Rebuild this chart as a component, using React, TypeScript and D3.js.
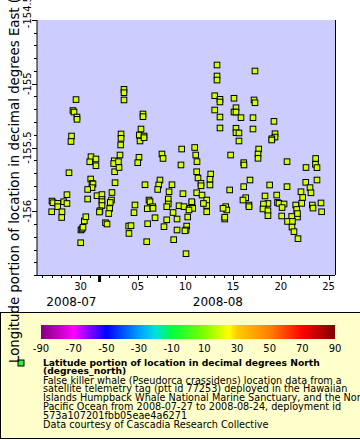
import React from 'react';
import * as d3 from 'd3';

// Time of each fix, in days counted from 2008-07-00 (30 = 2008-07-30 00:00 UTC, 32 = 2008-08-01)
const days = [
  27.01, 27.12, 27.61, 27.61, 28.24, 28.06, 28.03, 26.98, 28.58, 28.58,
  28.79, 29.53, 29.21, 29.32, 29.63, 29.63, 29.06, 29.00, 30.02, 30.05,
  30.16, 30.26, 30.40, 30.56, 31.10, 30.97, 31.62, 31.62, 31.07, 31.21,
  31.31, 31.21, 30.75, 30.75, 31.73, 32.25, 32.25, 32.25, 32.25, 32.04,
  31.99, 32.62, 32.78, 33.30, 33.25, 33.12, 33.06, 32.96, 33.62, 33.54,
  33.48, 33.58, 34.14, 33.98, 34.04, 34.21, 34.25, 34.25, 34.56, 34.56,
  34.56, 35.05, 35.29, 35.08, 35.71, 35.61, 36.13, 36.00, 36.24, 36.16,
  36.34, 36.55, 36.55, 36.66, 36.66, 36.76, 37.00, 37.18, 37.29, 37.04,
  36.94, 37.57, 37.60, 37.81, 38.33, 38.20, 38.09, 38.54, 38.65, 38.75,
  39.20, 39.20, 39.04, 39.28, 39.59, 39.04, 39.70, 39.77, 40.12, 40.12,
  40.33, 40.85, 40.61, 40.53, 40.74, 41.24, 41.13, 41.06, 40.95, 41.06,
  41.69, 41.48, 41.76, 41.37, 41.66, 41.97, 42.08, 42.21, 42.18, 42.32,
  42.18, 42.63, 42.63, 42.74, 43.23, 43.23, 43.23, 42.89, 43.65, 43.57,
  43.57, 44.31, 44.31, 44.31, 44.07, 44.62, 44.62, 44.07, 44.62, 44.62,
  45.22, 45.33, 44.94, 45.12, 45.12, 45.64, 45.74, 46.09, 46.30, 46.09,
  46.30, 46.82, 46.30, 46.30, 46.61, 46.61, 47.11, 47.14, 47.11, 47.77,
  47.32, 47.03, 47.66, 47.66, 48.29, 48.19, 48.29, 48.08, 48.08, 48.68,
  48.61, 48.61, 49.34, 49.65, 49.18, 49.13, 49.65, 49.65, 49.83, 50.28,
  50.39, 50.39, 50.07, 50.04, 50.57, 50.65, 50.81, 51.34, 51.13, 51.09,
  51.65, 51.65, 52.14, 52.75, 51.70, 52.22, 52.17, 52.38, 52.80, 52.56,
  52.66, 52.75, 53.19, 53.11, 53.29, 53.61, 53.64, 54.06, 54.16, 54.30,
  54.37, 54.65, 54.63, 54.79, 54.79, 55.21, 55.28,
];

// Longitude (degrees East)
const lons = [
  -155.920, -155.933, -155.938, -155.964, -155.925, -156.004, -156.049, -156.004, -155.870, -155.939,
  -155.698, -155.124, -155.210, -155.222, -155.261, -155.279, -155.410, -155.453, -156.247, -156.147,
  -156.139, -156.126, -156.076, -156.043, -155.572, -155.612, -155.590, -155.643, -155.747, -155.782,
  -155.786, -155.815, -155.829, -155.904, -155.878, -155.869, -155.908, -155.925, -155.955, -155.996,
  -156.006, -156.090, -156.100, -155.853, -155.912, -155.931, -155.978, -156.018, -155.776, -155.604,
  -155.626, -155.690, -155.559, -155.611, -155.657, -155.480, -155.394, -155.428, -155.044, -155.070,
  -155.127, -156.116, -156.113, -156.174, -155.951, -156.011, -155.577, -155.619, -155.449, -155.402,
  -155.355, -155.237, -155.258, -155.410, -155.423, -155.792, -155.980, -155.912, -155.925, -156.098,
  -156.239, -155.964, -155.977, -156.051, -155.755, -155.794, -155.829, -155.551, -155.586, -156.121,
  -155.904, -155.943, -155.964, -155.847, -155.792, -156.067, -156.010, -156.223, -156.061, -156.147,
  -155.957, -155.964, -155.512, -155.637, -155.862, -156.045, -156.116, -156.147, -156.153, -156.333,
  -155.933, -155.977, -155.977, -155.990, -155.925, -155.500, -155.559, -155.611, -155.690, -155.739,
  -155.855, -155.781, -155.800, -155.873, -155.912, -155.955, -156.004, -155.939, -155.708, -155.749,
  -155.794, -154.853, -154.939, -154.971, -155.094, -155.122, -155.143, -155.206, -155.261, -155.347,
  -155.964, -155.990, -155.977, -156.061, -156.047, -155.833, -155.559, -155.114, -155.188, -155.222,
  -155.222, -155.266, -155.349, -155.384, -155.386, -155.449, -155.619, -155.637, -155.807, -155.755,
  -155.894, -155.912, -155.951, -155.964, -154.900, -155.127, -155.149, -155.266, -155.355, -155.512,
  -155.551, -155.585, -155.880, -155.939, -155.943, -155.982, -155.996, -156.035, -155.794, -155.295,
  -155.392, -155.418, -155.431, -155.441, -155.873, -155.931, -155.938, -155.943, -155.971, -156.037,
  -155.611, -155.807, -156.041, -156.045, -156.080, -156.080, -156.124, -156.160, -156.215, -155.951,
  -155.986, -156.018, -155.938, -155.847, -155.892, -155.773, -155.657, -155.815, -155.855, -155.951,
  -155.975, -155.586, -155.632, -155.658, -155.755, -155.935, -156.004,
];

// Latitude (degrees North), used for the marker colour
const lats = [
  19.95, 19.95, 19.95, 20.05, 19.95, 20.05, 20.05, 20.05, 19.95, 19.95,
  19.95, 19.75, 19.75, 19.75, 19.75, 19.75, 19.85, 19.85, 20.05, 20.05,
  20.05, 20.05, 20.05, 20.05, 19.85, 19.85, 19.85, 19.85, 19.95, 19.95,
  19.95, 19.95, 19.95, 19.95, 19.95, 19.95, 19.95, 19.95, 20.05, 20.05,
  20.05, 20.05, 20.05, 19.95, 19.95, 19.95, 20.05, 20.05, 19.95, 19.85,
  19.85, 19.95, 19.85, 19.85, 19.95, 19.85, 19.85, 19.85, 19.75, 19.75,
  19.75, 20.05, 20.05, 20.05, 20.05, 20.05, 19.85, 19.85, 19.85, 19.85,
  19.85, 19.75, 19.75, 19.85, 19.85, 19.95, 20.05, 19.95, 19.95, 20.05,
  20.05, 20.05, 20.05, 20.05, 19.95, 19.95, 19.95, 19.85, 19.85, 20.05,
  19.95, 19.95, 20.05, 19.95, 19.95, 20.05, 20.05, 20.05, 20.05, 20.05,
  20.05, 20.05, 19.85, 19.85, 19.95, 20.05, 20.05, 20.05, 20.05, 20.05,
  19.95, 20.05, 20.05, 20.05, 19.95, 19.85, 19.85, 19.85, 19.95, 19.95,
  19.95, 19.95, 19.95, 19.95, 19.95, 20.05, 20.05, 19.95, 19.95, 19.95,
  19.95, 19.75, 19.75, 19.75, 19.75, 19.75, 19.75, 19.75, 19.75, 19.85,
  20.05, 20.05, 20.05, 20.05, 20.05, 19.95, 19.85, 19.75, 19.75, 19.75,
  19.75, 19.75, 19.85, 19.85, 19.85, 19.85, 19.85, 19.85, 19.95, 19.95,
  19.95, 19.95, 20.05, 20.05, 19.75, 19.75, 19.75, 19.75, 19.85, 19.85,
  19.85, 19.85, 19.95, 19.95, 19.95, 20.05, 20.05, 20.05, 19.95, 19.75,
  19.85, 19.85, 19.85, 19.85, 19.95, 19.95, 19.95, 19.95, 20.05, 20.05,
  19.85, 19.95, 20.05, 20.05, 20.05, 20.05, 20.05, 20.05, 20.05, 20.05,
  20.05, 20.05, 19.95, 19.95, 19.95, 19.95, 19.95, 19.95, 19.95, 20.05,
  20.05, 19.85, 19.85, 19.95, 19.95, 19.95, 20.05,
];

const xDomainDays = [25.44, 56.68];
const yDomain = [-156.5, -154.5];
const yTickValues = [-156, -155.5, -155, -154.5];
const yTickLabels = ['-156', '-155.5', '-155', '-154.5'];
const xMajorDays = [30, 36, 41, 46, 51, 56];
const xMajorLabels = ['30', '05', '10', '15', '20', '25'];
const monthLabels = ['2008-07', '2008-08'];
const monthLabelDays = [29.05, 44.4];
const monthBoundaryDays = [32];
const colorTickValues = [-90, -70, -50, -30, -10, 10, 30, 50, 70, 90];
const colorStopValues = [-90, -70, -50, -30, -20, -10, 10, 25, 30, 50, 70, 90];
const colorStopColors = ['#800080', '#ff00ff', '#0000ff', '#00a0ff', '#00e0e0', '#00ff40', '#80ff00', '#ffff00', '#ffcc00', '#ff8000', '#ff0000', '#800000'];
const legendBold = ['Latitude portion of location in decimal degrees North', '(degrees_north)'];
const legendLines = [
  'False killer whale (Pseudorca crassidens) location data from a',
  'satellite telemetry tag (ptt id 77253) deployed in the Hawaiian',
  'Islands Humpback Whale National Marine Sanctuary, and the North',
  'Pacific Ocean from 2008-07-27 to 2008-08-24, deployment id',
  '573a107201fbb05eae4a6271',
  'Data courtesy of Cascadia Research Collective',
];
const yTitle = 'Longitude portion of location in decimal degrees East (degrees_east)';

const DAY = 86400000;
const T0 = Date.UTC(2008, 6, 0);
const toDate = (d: number) => new Date(T0 + d * DAY);

const FONT = 'DejaVu Sans, Verdana, sans-serif';

export default function App() {
  const W = 360, H = 440;
  const L = 37, R = 335, T = 20, B = 275;

  const x = d3.scaleUtc().domain(xDomainDays.map(toDate)).range([L, R]);
  const y = d3.scaleLinear().domain(yDomain).range([B, T]);
  const color = d3.scaleLinear<string>().domain(colorStopValues).range(colorStopColors).clamp(true);

  const minorDays = d3.range(Math.ceil(xDomainDays[0]), Math.floor(xDomainDays[1]) + 1);
  const yMinor = d3.range(0, 21).map(i => yDomain[0] + i * 0.1);

  const cbL = 41, cbR = 335, cbT = 325, cbB = 339;
  const cb = d3.scaleLinear().domain([-90, 90]).range([cbL, cbR]);

  const n = Math.min(days.length, lons.length, lats.length);
  const pts = d3.range(n).map(i => ({ t: toDate(days[i]), lon: lons[i], lat: lats[i] }));
  const ms = 5.6;

  return (
    <svg width={W} height={H} style={{ position: 'absolute', left: 0, top: 0, background: '#fff' }} fontFamily={FONT}>
      <defs>
        <linearGradient id="cbar" x1="0" x2="1" y1="0" y2="0">
          {colorStopValues.map((v, i) => (
            <stop key={i} offset={(v + 90) / 180} stopColor={colorStopColors[i]} />
          ))}
        </linearGradient>
        <clipPath id="plotclip"><rect x={L} y={T} width={R - L} height={B - T} /></clipPath>
      </defs>
      <rect x={L} y={T} width={R - L} height={B - T} fill="#ccccff" />
      <g clipPath="url(#plotclip)">
        {pts.map((p, i) => (
          <rect key={i} x={x(p.t) - ms / 2} y={y(p.lon) - ms / 2} width={ms} height={ms}
            fill={color(p.lat)} stroke="#000" strokeWidth={1} />
        ))}
      </g>
      {/* frame */}
      <line x1={L} x2={L} y1={T} y2={B} stroke="#000" />
      <line x1={L} x2={R} y1={B + 0.5} y2={B + 0.5} stroke="#000" />
      <line x1={R + 0.5} x2={R + 0.5} y1={T} y2={B} stroke="#000" />
      {/* y ticks */}
      {yMinor.map((v, i) => (
        <line key={'ym' + i} x1={L - 3} x2={L} y1={Math.round(y(v)) + 0.5} y2={Math.round(y(v)) + 0.5} stroke="#000" />
      ))}
      {yTickValues.map((v, i) => {
        const ty = v === yDomain[1] ? y(v) - 8 : y(v);
        return (
          <g key={'yt' + i}>
            <line x1={L - 5} x2={L} y1={Math.round(y(v)) + 0.5} y2={Math.round(y(v)) + 0.5} stroke="#000" />
            <text transform={`translate(31,${ty}) rotate(-90)`} textAnchor="middle" fontSize={10}>{yTickLabels[i]}</text>
          </g>
        );
      })}
      {/* x ticks */}
      {minorDays.map((d, i) => (
        <line key={'xm' + i} x1={Math.round(x(toDate(d))) + 0.5} x2={Math.round(x(toDate(d))) + 0.5} y1={B} y2={B + 3} stroke="#000" />
      ))}
      {xMajorDays.map((d, i) => (
        <g key={'xt' + i}>
          <line x1={Math.round(x(toDate(d))) + 0.5} x2={Math.round(x(toDate(d))) + 0.5} y1={B} y2={B + 5} stroke="#000" />
          <text x={x(toDate(d))} y={290} textAnchor="middle" fontSize={10}>{xMajorLabels[i]}</text>
        </g>
      ))}
      {monthBoundaryDays.map((d, i) => (
        <rect key={'mb' + i} x={x(toDate(d)) - 1.5} y={B + 1} width={3} height={6} fill="#000" />
      ))}
      {monthLabels.map((s, i) => (
        <text key={'ml' + i} x={x(toDate(monthLabelDays[i]))} y={306} textAnchor="middle" fontSize={12}>{s}</text>
      ))}
      {/* legend */}
      <rect x={0.5} y={312.5} width={420} height={126} fill="#ffffcc" stroke="#000" />
      <rect x={cbL} y={cbT} width={cbR - cbL} height={cbB - cbT} fill="url(#cbar)" />
      {colorTickValues.map((v, i) => (
        <text key={'ct' + i} x={cb(v)} y={352} textAnchor="middle" fontSize={10}>{v}</text>
      ))}
      <rect x={18} y={360} width={6} height={6} fill="#33ee33" stroke="#000" />
      {legendBold.map((s, i) => (
        <text key={'lb' + i} x={43} y={366 + i * 8.3} fontSize={9.2} fontWeight="bold">{s}</text>
      ))}
      {legendLines.map((s, i) => (
        <text key={'ll' + i} x={43} y={383.5 + i * 8.9} fontSize={9.7}>{s}</text>
      ))}
      {/* y title */}
      <text transform="translate(18.5,363) rotate(-90)" textAnchor="start" fontSize={13.3}>{yTitle}</text>
    </svg>
  );
}
